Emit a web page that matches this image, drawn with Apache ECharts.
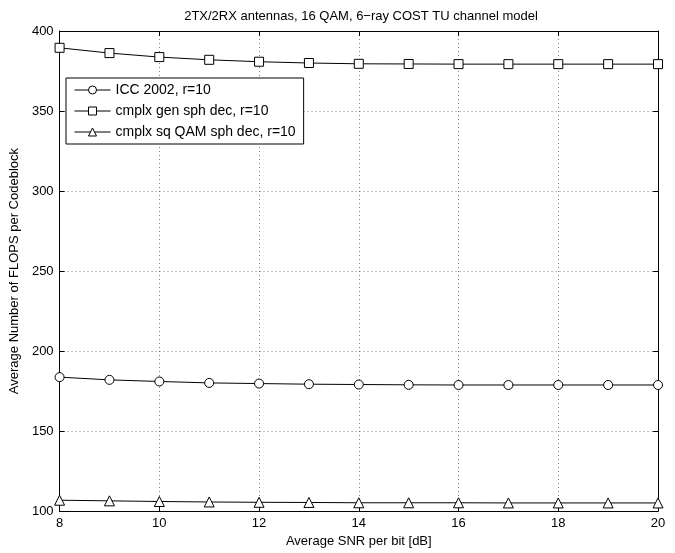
<!DOCTYPE html>
<html><head><meta charset="utf-8">
<script src="https://cdn.jsdelivr.net/npm/echarts@6/dist/echarts.min.js"></script>
<style>html,body{margin:0;padding:0;background:#fff}#c{width:675px;height:553px}</style>
</head><body><div id="c"></div>
<script>
const snr = [8, 9, 10, 11, 12, 13, 14, 15, 16, 17, 18, 19, 20];
const icc2002 = [183.7, 182.0, 181.0, 180.1, 179.7, 179.3, 179.1, 178.9, 178.8, 178.8, 178.8, 178.8, 178.8];
const genSph = [389.5, 386.2, 383.7, 382.0, 380.8, 380.0, 379.5, 379.4, 379.3, 379.3, 379.3, 379.3, 379.3];
const sqQam = [106.8, 106.4, 106.0, 105.7, 105.5, 105.4, 105.2, 105.2, 105.2, 105.1, 105.1, 105.1, 105.1];
const seriesNames = ['ICC 2002, r=10', 'cmplx gen sph dec, r=10', 'cmplx sq QAM sph dec, r=10'];
const yTicks = [100, 150, 200, 250, 300, 350, 400];
const xTicks = [8, 10, 12, 14, 16, 18, 20];

const chart = echarts.init(document.getElementById('c'));
const font = 'Liberation Sans, Arial, sans-serif';
const pair = (xs, ys) => xs.map((x, i) => [x, ys[i]]);
const mk = (name, data, sym) => ({
  name, type: 'line', data: pair(snr, data), symbol: sym, symbolSize: sym === 'triangle' ? 10 : 9,
  showSymbol: true, lineStyle: { color: '#000', width: 1 },
  itemStyle: { color: '#fff', borderColor: '#000', borderWidth: 1 },
  emphasis: { disabled: true }, animation: false
});
const gridLine = { show: true, lineStyle: { color: '#000', type: [1, 3], width: 1, opacity: 0.5 } };
const axLine = { show: true, lineStyle: { color: '#000', width: 1 } };
const tick = { show: true, inside: true, length: 5, lineStyle: { color: '#000' } };
chart.setOption({
  animation: false,
  textStyle: { fontFamily: font },
  title: { text: '2TX/2RX antennas, 16 QAM, 6\u2212ray COST TU channel model', left: 356, top: 5, textAlign: 'center',
    textStyle: { fontSize: 13, fontWeight: 'normal', color: '#000', fontFamily: font } },
  grid: { left: 54, right: 17, top: 31, bottom: 39, containLabel: false },
  legend: {
    left: 66, top: 78, orient: 'vertical', data: seriesNames,
    backgroundColor: '#fff', borderColor: '#000', borderWidth: 1, padding: [5, 8, 5, 8],
    itemWidth: 36, itemHeight: 10, itemGap: 7,
    lineStyle: { width: 1 }, itemStyle: { borderWidth: 1 },
    textStyle: { fontSize: 14, color: '#000', fontFamily: font }
  },
  xAxis: [
    { type: 'value', min: 8, max: 20, interval: 2, position: 'bottom',
      name: 'Average SNR per bit [dB]', nameLocation: 'middle', nameGap: 22,
      nameTextStyle: { fontSize: 13, color: '#000' },
      axisLine: axLine, axisTick: tick,
      axisLabel: { fontSize: 13, color: '#000', margin: 6 }, splitLine: gridLine },
    { type: 'value', min: 8, max: 20, interval: 2, position: 'top',
      axisLine: axLine, axisTick: tick, axisLabel: { show: false }, splitLine: { show: false } }
  ],
  yAxis: [
    { type: 'value', min: 100, max: 400, interval: 50, position: 'left',
      name: 'Average Number of FLOPS per Codeblock', nameLocation: 'middle', nameGap: 36,
      nameTextStyle: { fontSize: 13, color: '#000' },
      axisLine: axLine, axisTick: tick,
      axisLabel: { fontSize: 13, color: '#000', margin: 6 }, splitLine: gridLine },
    { type: 'value', min: 100, max: 400, interval: 50, position: 'right',
      axisLine: axLine, axisTick: tick, axisLabel: { show: false }, splitLine: { show: false } }
  ],
  series: [
    mk(seriesNames[0], icc2002, 'circle'),
    mk(seriesNames[1], genSph, 'rect'),
    mk(seriesNames[2], sqQam, 'triangle')
  ]
});
</script></body></html>
